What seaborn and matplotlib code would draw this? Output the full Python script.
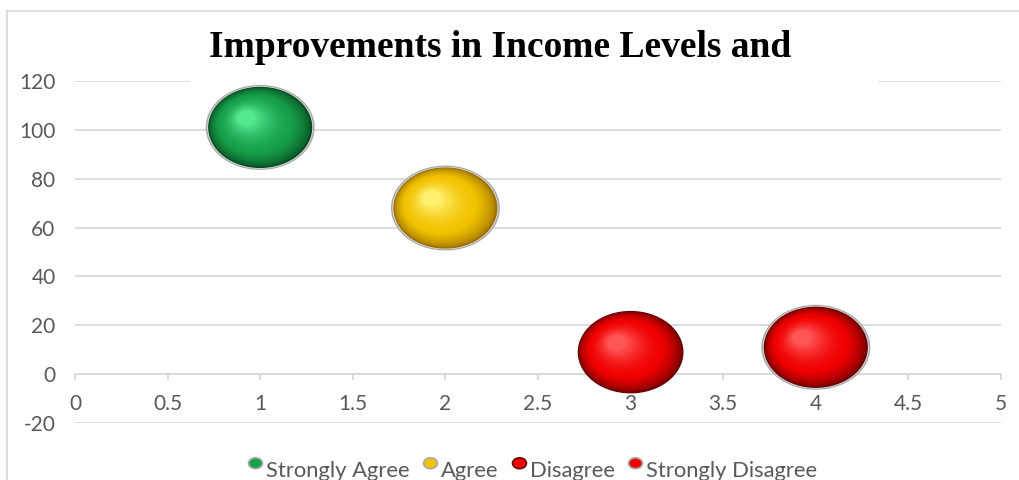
import numpy as np
import matplotlib
matplotlib.use("Agg")
import matplotlib.pyplot as plt
import seaborn as sns
from matplotlib.path import Path
from matplotlib.markers import MarkerStyle
from matplotlib.transforms import Affine2D
from matplotlib.patches import Rectangle
from matplotlib.lines import Line2D
import matplotlib.colors as mcolors

# ---- data ----
categories = ["Strongly Agree", "Agree", "Disagree", "Strongly Disagree"]
x_vals = [1, 2, 3, 4]
y_vals = [101, 68, 9, 11]
title = "Improvements in Income Levels and"
x_ticks = [0, 0.5, 1, 1.5, 2, 2.5, 3, 3.5, 4, 4.5, 5]
y_ticks = [-20, 0, 20, 40, 60, 80, 100, 120]

# ---- style ----
shades = {
    "Strongly Agree": ("#064d22", "#17a04a", "#52e88e"),
    "Agree": ("#9a7000", "#f2c200", "#fff070"),
    "Disagree": ("#6a0000", "#f00000", "#ff5555"),
    "Strongly Disagree": ("#6a0000", "#f00000", "#ff5555"),
}
rim = {"Strongly Agree": True, "Agree": True, "Disagree": False, "Strongly Disagree": True}

sns.set_theme(style="white")
plt.rcParams["font.family"] = ["Lato", "DejaVu Sans"]

W, H = 1019, 480
fig = plt.figure(figsize=(W / 100, H / 100), dpi=100)
ax = fig.add_axes([75 / W, (H - 423) / H, (1001 - 75) / W, (423 - 81) / H])

ellipse = Affine2D().scale(1, 0.78).transform_path(Path.unit_circle())
S = 5800
N = 26


def blend(c1, c2, t):
    a = np.array(mcolors.to_rgb(c1))
    b = np.array(mcolors.to_rgb(c2))
    return tuple(a + (b - a) * t)


df_rows = list(zip(categories, x_vals, y_vals))
for cat, xv, yv in df_rows:
    dark, base, light = shades[cat]
    if rim[cat]:
        ms = MarkerStyle(ellipse, transform=Affine2D().scale(1.03))
        sns.scatterplot(x=[xv], y=[yv], s=S, marker=ms, color="#a8a8a8",
                        edgecolor="none", linewidth=0, ax=ax, legend=False, zorder=3)
        ms = MarkerStyle(ellipse, transform=Affine2D().scale(1.0))
        sns.scatterplot(x=[xv], y=[yv], s=S, marker=ms, color="#e8e8e8",
                        edgecolor="none", linewidth=0, ax=ax, legend=False, zorder=3)
    for k in range(N):
        t = k / (N - 1)
        sc = (0.985 if rim[cat] else 1.0) * (1 - 0.82 * t)
        dx, dy = -0.13 * t, 0.09 * t
        if t < 0.35:
            col = blend(dark, base, (t / 0.35) ** 0.6)
        else:
            col = blend(base, light, ((t - 0.35) / 0.65) ** 1.6)
        ms = MarkerStyle(ellipse, transform=Affine2D().scale(sc).translate(dx, dy))
        sns.scatterplot(x=[xv], y=[yv], s=S, marker=ms, color=col,
                        edgecolor="none", linewidth=0, ax=ax, legend=False, zorder=4)

ax.set_xlim(0, 5)
ax.set_ylim(-20, 120)
ax.set_xticks(x_ticks)
ax.set_xticklabels([f"{v:g}" for v in x_ticks])
ax.set_yticks(y_ticks)
ax.set_yticklabels([f"{v:g}" for v in y_ticks])
ax.set_xlabel("")
ax.set_ylabel("")
ax.grid(axis="y", color="#d9d9d9", linewidth=1.3)
ax.grid(axis="x", visible=False)
for side in ["top", "right", "left"]:
    ax.spines[side].set_visible(False)
ax.spines["bottom"].set_position(("data", 0))
ax.spines["bottom"].set_color("#d9d9d9")
ax.spines["bottom"].set_linewidth(1.3)
ax.tick_params(axis="x", direction="out", length=4, width=1.3, color="#d9d9d9",
               labelsize=15, labelcolor="#595959", pad=10, bottom=True)
ax.tick_params(axis="y", length=0, labelsize=15, labelcolor="#595959", pad=14)
ax.set_facecolor("none")
ax.set_axisbelow(True)

# outer chart border
fig.patches.append(Rectangle((7, -20), 1100, H - 11 + 20, transform=None,
                             fill=False, edgecolor="#d9d9d9", linewidth=1.3, zorder=0))
# title box
fig.patches.append(Rectangle((190, H - 84), 878 - 190, 71, transform=None,
                             facecolor="white", edgecolor="none", zorder=5))
fig.text(500 / W, 1 - 57 / H, title, ha="center", va="baseline", fontsize=27,
         fontweight="bold", family=["Liberation Serif", "DejaVu Serif"], color="black",
         zorder=6)

# legend
handles = []
for cat in categories:
    dark, base, light = shades[cat]
    handles.append(Line2D([], [], linestyle="none",
                          marker=MarkerStyle(ellipse, transform=Affine2D().translate(0, 0.45)),
                          markersize=10, markerfacecolor=base,
                          markeredgecolor="#a8a8a8" if rim[cat] else dark,
                          markeredgewidth=1.2))
leg = fig.legend(handles, categories, loc="center", bbox_to_anchor=(533 / W, 9 / H),
                 ncol=4, frameon=False, fontsize=15.8, handlelength=0.6,
                 handletextpad=0.2, columnspacing=0.62, labelcolor="#595959",
                 borderaxespad=0)

fig.savefig("out.png", dpi=100, facecolor="white")
